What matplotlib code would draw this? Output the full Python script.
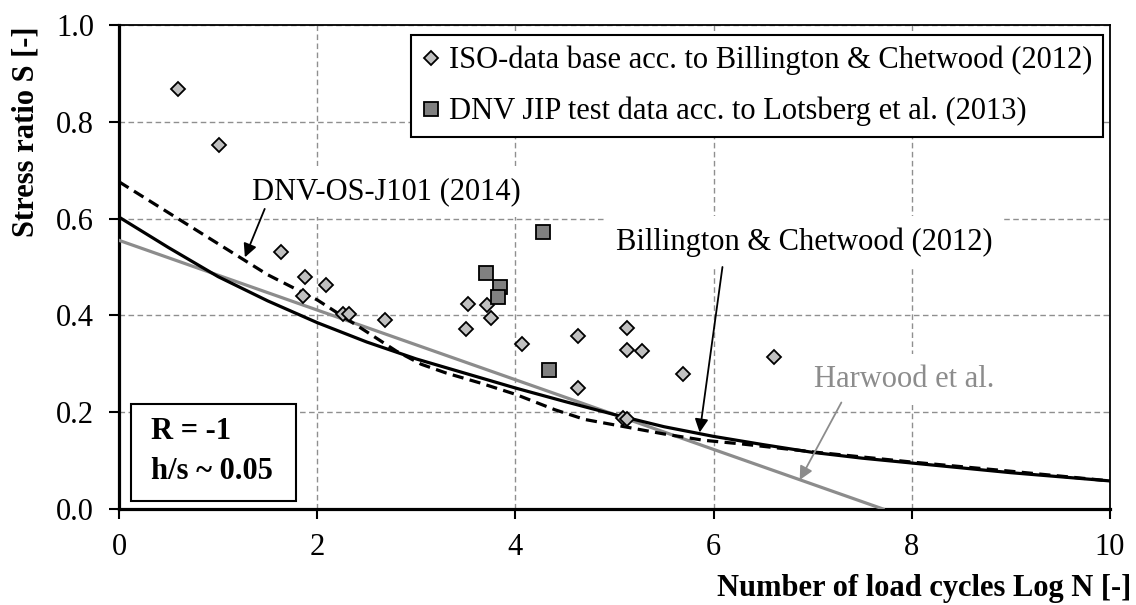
import matplotlib.pyplot as plt
from matplotlib.patches import Rectangle
import numpy as np

plt.rcParams['font.family'] = ['Liberation Serif', 'DejaVu Serif']

# S-N curves, stress ratio S over log N
log_n = [0, 0.5, 1.0, 1.5, 2.0, 2.5, 3.0, 3.5, 4.0, 4.5, 5.0, 5.5, 6.0, 6.5, 7.0, 7.5, 8.0, 9.0, 10.0]
billington_s = [0.603, 0.54, 0.48, 0.43, 0.385, 0.345, 0.31, 0.28, 0.25, 0.222, 0.195, 0.17, 0.15,
                0.133, 0.117, 0.105, 0.095, 0.075, 0.058]
dnv_log_n = [0, 0.5, 1.0, 1.5, 2.0, 2.5, 2.8, 3.05, 3.3, 3.65, 4.0, 4.4, 4.7, 5.1, 5.5, 5.9, 6.3,
             7.0, 8.0, 9.0, 10.0]
dnv_s = [0.676, 0.612, 0.548, 0.484, 0.432, 0.366, 0.326, 0.299, 0.281, 0.26, 0.237, 0.205, 0.185,
         0.17, 0.155, 0.142, 0.134, 0.118, 0.097, 0.078, 0.058]
harwood_log_n = [0, 7.71]
harwood_s = [0.555, 0.0]

# test data
iso_n = [0.59, 1.01, 1.63, 1.88, 2.09, 1.86, 2.26, 2.32, 2.68, 3.52, 3.50, 3.71, 3.75, 4.07,
         4.63, 5.13, 5.13, 5.28, 4.63, 5.69, 5.09, 5.13, 6.61]
iso_s = [0.868, 0.753, 0.53, 0.48, 0.462, 0.44, 0.403, 0.403, 0.39, 0.424, 0.372, 0.422, 0.394,
         0.341, 0.357, 0.374, 0.328, 0.326, 0.25, 0.279, 0.188, 0.186, 0.313]
jip_n = [4.28, 3.70, 3.84, 3.82, 4.34]
jip_s = [0.572, 0.487, 0.458, 0.439, 0.287]

fs = 22

fig, ax = plt.subplots(figsize=(11.36, 6.05), dpi=100)
fig.subplots_adjust(left=0.1048, right=0.977, bottom=0.1587, top=0.9587)

ax.plot(harwood_log_n, harwood_s, color='#8c8c8c', lw=2.3, zorder=3)
ax.plot(dnv_log_n, dnv_s, color='black', lw=2.3, ls=(0, (3.5, 2)), zorder=3)
ax.plot(log_n, billington_s, color='black', lw=2.3, zorder=4)

ax.plot(iso_n, iso_s, 'D', ms=7, mfc='#c0c0c0', mec='black', mew=1.3, ls='none', zorder=5,
        label='ISO-data base acc. to Billington & Chetwood (2012)')
ax.plot(jip_n, jip_s, 's', ms=10, mfc='#808080', mec='black', mew=1.3, ls='none', zorder=5,
        label='DNV JIP test data acc. to Lotsberg et al. (2013)')

ax.set_xlim(0, 10)
ax.set_ylim(0, 1)
ax.set_xticks(range(0, 11, 2))
ax.set_yticks(np.arange(0, 1.01, 0.2))
ax.set_yticklabels([f'{v:.1f}' for v in np.arange(0, 1.01, 0.2)])
ax.grid(True, color='#8f8f8f', ls=(0, (4, 2.5)), lw=1)
ax.set_axisbelow(True)
for side in ['left', 'bottom']:
    ax.spines[side].set_linewidth(2.3)
for side in ['top', 'right']:
    ax.spines[side].set_linewidth(1.3)
ax.tick_params(axis='both', direction='out', length=7, width=1.5, labelsize=fs)
ax.tick_params(axis='x', pad=10)
ax.tick_params(axis='y', pad=11)

# curve labels with arrows
box = dict(fc='white', ec='none', pad=8)
ax.text(2.7, 0.655, 'DNV-OS-J101 (2014)', ha='center', va='center', fontsize=fs, bbox=box, zorder=2)
ax.text(6.92, 0.552, 'Billington & Chetwood (2012)', ha='center', va='center', fontsize=fs,
        bbox=box, zorder=2)
ax.text(7.92, 0.268, 'Harwood et al.', ha='center', va='center', fontsize=fs, color='#8c8c8c',
        bbox=box, zorder=2)

arrow = dict(arrowstyle='-|>', color='black', lw=1.3, mutation_scale=20, shrinkA=0, shrinkB=0)
ax.annotate('', xy=(1.27, 0.52), xytext=(1.47, 0.62), arrowprops=arrow, zorder=6)
ax.annotate('', xy=(5.86, 0.158), xytext=(6.09, 0.5), arrowprops=arrow, zorder=6)
ax.annotate('', xy=(6.87, 0.06), xytext=(7.29, 0.22),
            arrowprops=dict(arrow, color='#8c8c8c'), zorder=6)

# load case box
ax.add_patch(Rectangle((0.12, 0.016), 1.67, 0.2, fc='white', ec='black', lw=1.5, zorder=6))
ax.text(0.32, 0.16, 'R = -1', ha='left', va='center', fontsize=fs, fontweight='bold', zorder=7)
ax.text(0.32, 0.078, 'h/s ~ 0.05', ha='left', va='center', fontsize=fs, fontweight='bold', zorder=7)

leg = ax.legend(loc='upper right', bbox_to_anchor=(0.993, 0.979), fontsize=fs, frameon=True,
                fancybox=False, edgecolor='black', framealpha=1, borderaxespad=0,
                handlelength=0.6, handletextpad=0.3, borderpad=0.35, labelspacing=0.7)
leg.get_frame().set_linewidth(1.5)
leg.set_zorder(8)

fig.text(26 / 1136, 1 - 132 / 605, 'Stress ratio S [-]', rotation=90, ha='center', va='center',
         fontsize=fs, fontweight='bold')
fig.text(1131 / 1136, 9 / 605, 'Number of load cycles Log N [-]', ha='right', va='baseline',
         fontsize=fs, fontweight='bold')

fig.savefig('out.png', dpi=100)
